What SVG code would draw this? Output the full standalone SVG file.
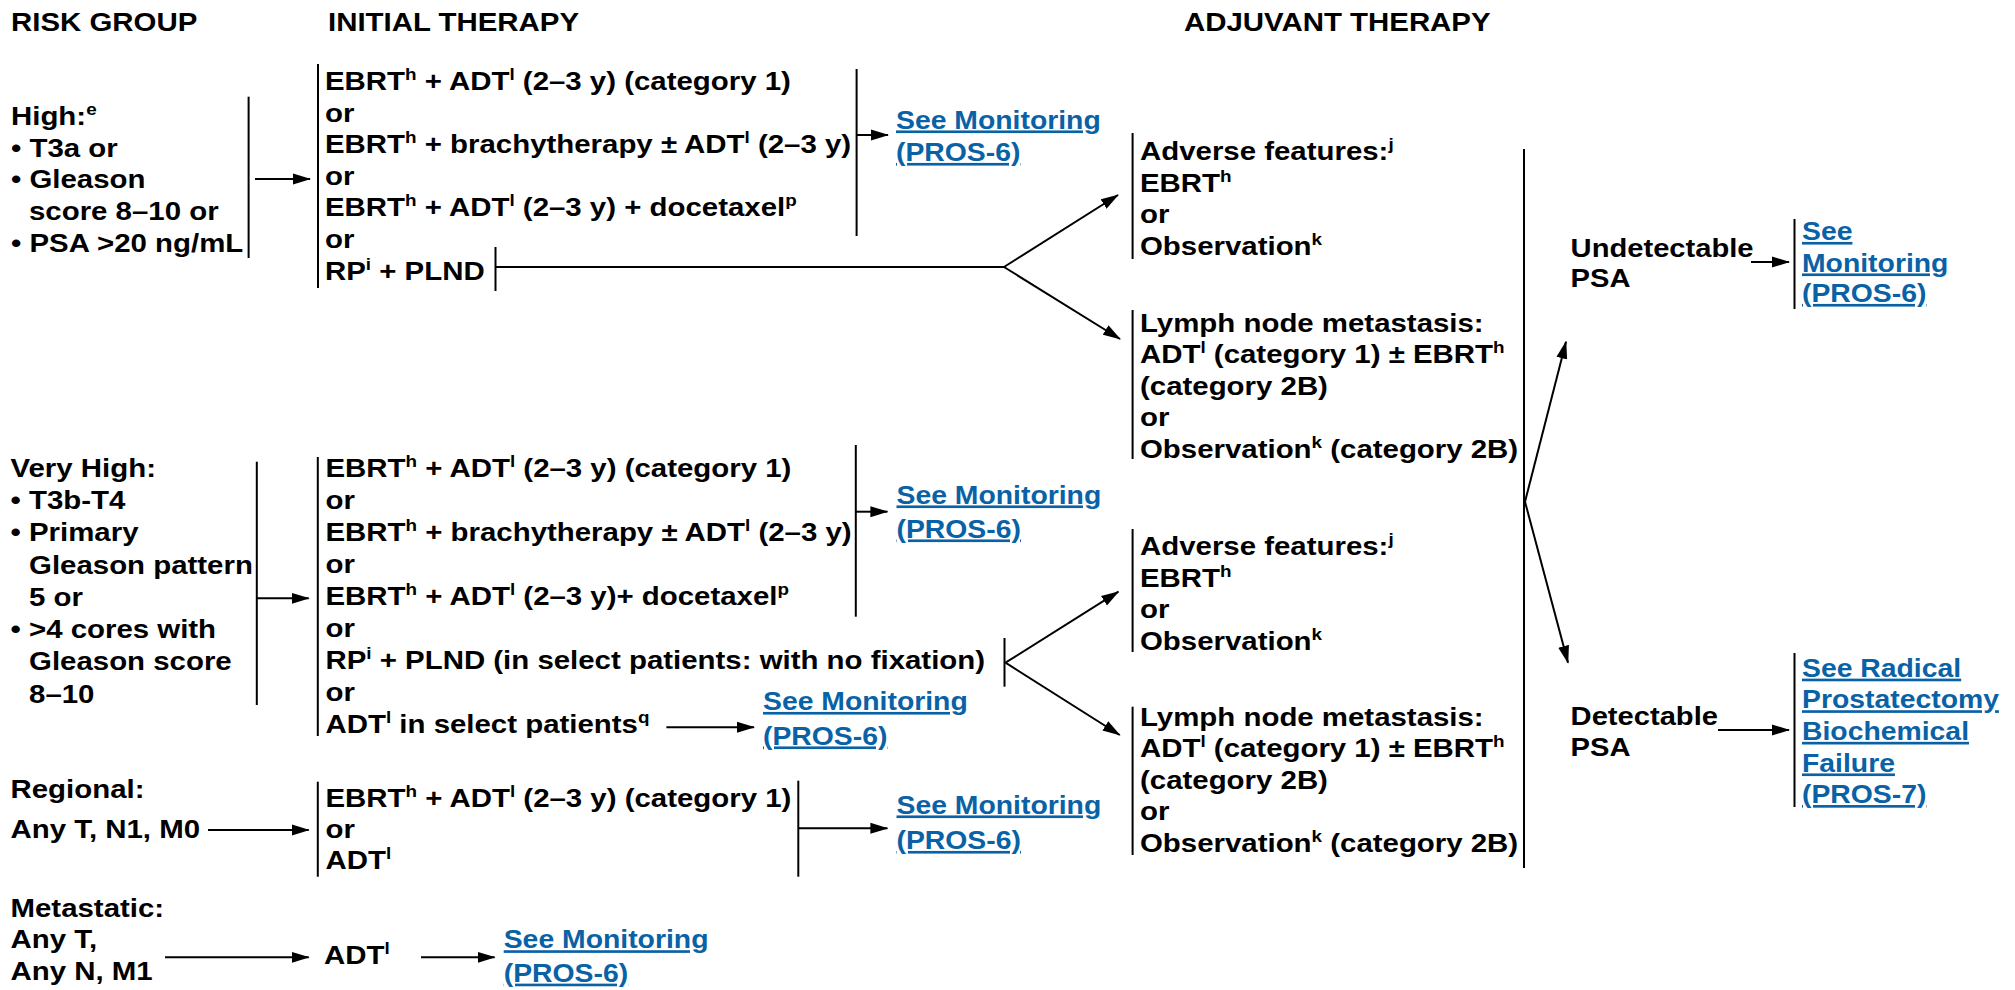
<svg xmlns="http://www.w3.org/2000/svg" width="2015" height="990" viewBox="0 0 2015 990">
<style>
.t{font-family:"Liberation Sans",Arial,Helvetica,sans-serif;font-weight:700;font-size:26.5px;fill:#000}
.s{font-size:17px}
.lk{fill:#0a62a6;text-decoration:underline}
.ln{stroke:#000;stroke-width:2;fill:none}
.ar{marker-end:url(#ah)}
</style>
<defs>
<marker id="ah" markerUnits="userSpaceOnUse" markerWidth="18" markerHeight="12" refX="17" refY="6" orient="auto">
<path d="M0,0.5 L18,6 L0,11.5 z" fill="#000"/>
</marker>
</defs>
<rect x="0" y="0" width="2015" height="990" fill="#fff"/>

<g id="headers">
<text class="t" transform="translate(11,31) scale(1.11,1)">RISK GROUP</text>
<text class="t" transform="translate(328,31) scale(1.11,1)">INITIAL THERAPY</text>
<text class="t" transform="translate(1184,31) scale(1.11,1)">ADJUVANT THERAPY</text>
</g>

<g id="risk-high">
<text class="t" transform="translate(11,125) scale(1.11,1)"><tspan x="0" y="0">High:<tspan class="s" dy="-10">e</tspan></tspan><tspan x="0" y="31.7">• T3a or</tspan><tspan x="0" y="63.4">• Gleason</tspan><tspan x="16.2" y="95.1">score 8–10 or</tspan><tspan x="0" y="126.8">• PSA &gt;20 ng/mL</tspan></text>
</g>

<g id="therapy-high">
<line class="ln" x1="318" y1="64" x2="318" y2="288"/>
<text class="t" transform="translate(325,90) scale(1.11,1)"><tspan x="0" y="0">EBRT<tspan class="s" dy="-10">h</tspan><tspan dy="10"> + ADT</tspan><tspan class="s" dy="-10">l</tspan><tspan dy="10"> (2–3 y) (category 1)</tspan></tspan><tspan x="0" y="31.6">or</tspan><tspan x="0" y="63.2">EBRT<tspan class="s" dy="-10">h</tspan><tspan dy="10"> + brachytherapy ± ADT</tspan><tspan class="s" dy="-10">l</tspan><tspan dy="10"> (2–3 y)</tspan></tspan><tspan x="0" y="94.8">or</tspan><tspan x="0" y="126.4">EBRT<tspan class="s" dy="-10">h</tspan><tspan dy="10"> + ADT</tspan><tspan class="s" dy="-10">l</tspan><tspan dy="10"> (2–3 y) + docetaxel</tspan><tspan class="s" dy="-10">p</tspan></tspan><tspan x="0" y="158">or</tspan><tspan x="0" y="189.6">RP<tspan class="s" dy="-10">i</tspan><tspan dy="10"> + PLND</tspan></tspan></text>
</g>

<g id="monitor-high">
<text class="t lk" transform="translate(896,128.5) scale(1.07,1)">See Monitoring</text>
<text class="t lk" transform="translate(896,161) scale(1.07,1)">(PROS-6)</text>
</g>

<g id="adverse-1">
<line class="ln" x1="1132.6" y1="133" x2="1132.6" y2="259"/>
<text class="t" transform="translate(1140,160) scale(1.11,1)"><tspan x="0" y="0">Adverse features:<tspan class="s" dy="-10">j</tspan></tspan><tspan x="0" y="31.7">EBRT<tspan class="s" dy="-10">h</tspan></tspan><tspan x="0" y="63.4">or</tspan><tspan x="0" y="95.1">Observation<tspan class="s" dy="-10">k</tspan></tspan></text>
</g>

<g id="lymph-1">
<line class="ln" x1="1132.6" y1="310" x2="1132.6" y2="459"/>
<text class="t" transform="translate(1140,331.7) scale(1.11,1)"><tspan x="0" y="0">Lymph node metastasis:</tspan><tspan x="0" y="31.6">ADT<tspan class="s" dy="-10">l</tspan><tspan dy="10"> (category 1) ± EBRT</tspan><tspan class="s" dy="-10">h</tspan></tspan><tspan x="0" y="63.2">(category 2B)</tspan><tspan x="0" y="94.8">or</tspan><tspan x="0" y="126.4">Observation<tspan class="s" dy="-10">k</tspan><tspan dy="10"> (category 2B)</tspan></tspan></text>
</g>

<g id="risk-very-high">
<text class="t" transform="translate(10.5,476.7) scale(1.11,1)"><tspan x="0" y="0">Very High:</tspan><tspan x="0" y="32.3">• T3b-T4</tspan><tspan x="0" y="64.6">• Primary</tspan><tspan x="16.7" y="96.9">Gleason pattern</tspan><tspan x="16.7" y="129.2">5 or</tspan><tspan x="0" y="161.5">• &gt;4 cores with</tspan><tspan x="16.7" y="193.8">Gleason score</tspan><tspan x="16.7" y="226.1">8–10</tspan></text>
</g>

<g id="therapy-very-high">
<line class="ln" x1="317.8" y1="457" x2="317.8" y2="736"/>
<text class="t" transform="translate(325.5,477.3) scale(1.11,1)"><tspan x="0" y="0">EBRT<tspan class="s" dy="-10">h</tspan><tspan dy="10"> + ADT</tspan><tspan class="s" dy="-10">l</tspan><tspan dy="10"> (2–3 y) (category 1)</tspan></tspan><tspan x="0" y="32">or</tspan><tspan x="0" y="64">EBRT<tspan class="s" dy="-10">h</tspan><tspan dy="10"> + brachytherapy ± ADT</tspan><tspan class="s" dy="-10">l</tspan><tspan dy="10"> (2–3 y)</tspan></tspan><tspan x="0" y="96">or</tspan><tspan x="0" y="128">EBRT<tspan class="s" dy="-10">h</tspan><tspan dy="10"> + ADT</tspan><tspan class="s" dy="-10">l</tspan><tspan dy="10"> (2–3 y)+ docetaxel</tspan><tspan class="s" dy="-10">p</tspan></tspan><tspan x="0" y="160">or</tspan><tspan x="0" y="192">RP<tspan class="s" dy="-10">i</tspan><tspan dy="10"> + PLND (in select patients: with no fixation)</tspan></tspan><tspan x="0" y="224">or</tspan><tspan x="0" y="256">ADT<tspan class="s" dy="-10">l</tspan><tspan dy="10"> in select patients</tspan><tspan class="s" dy="-10">q</tspan></tspan></text>
</g>

<g id="monitor-very-high">
<text class="t lk" transform="translate(896.5,503.5) scale(1.07,1)">See Monitoring</text>
<text class="t lk" transform="translate(896.5,537.5) scale(1.07,1)">(PROS-6)</text>
</g>

<g id="monitor-adt-select">
<text class="t lk" transform="translate(763,710) scale(1.07,1)">See Monitoring</text>
<text class="t lk" transform="translate(763,744.5) scale(1.07,1)">(PROS-6)</text>
</g>

<g id="adverse-2">
<line class="ln" x1="1132.6" y1="529" x2="1132.6" y2="652"/>
<text class="t" transform="translate(1140,555) scale(1.11,1)"><tspan x="0" y="0">Adverse features:<tspan class="s" dy="-10">j</tspan></tspan><tspan x="0" y="31.7">EBRT<tspan class="s" dy="-10">h</tspan></tspan><tspan x="0" y="63.4">or</tspan><tspan x="0" y="95.1">Observation<tspan class="s" dy="-10">k</tspan></tspan></text>
</g>

<g id="lymph-2">
<line class="ln" x1="1132.6" y1="706.7" x2="1132.6" y2="855"/>
<text class="t" transform="translate(1140,726) scale(1.11,1)"><tspan x="0" y="0">Lymph node metastasis:</tspan><tspan x="0" y="31.4">ADT<tspan class="s" dy="-10">l</tspan><tspan dy="10"> (category 1) ± EBRT</tspan><tspan class="s" dy="-10">h</tspan></tspan><tspan x="0" y="62.8">(category 2B)</tspan><tspan x="0" y="94.2">or</tspan><tspan x="0" y="125.6">Observation<tspan class="s" dy="-10">k</tspan><tspan dy="10"> (category 2B)</tspan></tspan></text>
</g>

<g id="undetectable">
<text class="t" transform="translate(1570.6,256.7) scale(1.1,1)"><tspan x="0" y="0">Undetectable</tspan><tspan x="0" y="30.5">PSA</tspan></text>
</g>

<g id="monitor-undetectable">
<line class="ln" x1="1794.5" y1="219" x2="1794.5" y2="309"/>
<text class="t lk" transform="translate(1802,240) scale(1.07,1)">See</text>
<text class="t lk" transform="translate(1802,271.5) scale(1.07,1)">Monitoring</text>
<text class="t lk" transform="translate(1802,302) scale(1.07,1)">(PROS-6)</text>
</g>

<g id="detectable">
<text class="t" transform="translate(1570.6,725) scale(1.1,1)"><tspan x="0" y="0">Detectable</tspan><tspan x="0" y="30.7">PSA</tspan></text>
</g>

<g id="failure-link">
<line class="ln" x1="1794.5" y1="653" x2="1794.5" y2="807"/>
<text class="t lk" transform="translate(1802,676.7) scale(1.07,1)">See Radical</text>
<text class="t lk" transform="translate(1802,708.3) scale(1.07,1)">Prostatectomy</text>
<text class="t lk" transform="translate(1802,739.9) scale(1.07,1)">Biochemical</text>
<text class="t lk" transform="translate(1802,771.5) scale(1.07,1)">Failure</text>
<text class="t lk" transform="translate(1802,803.1) scale(1.07,1)">(PROS-7)</text>
</g>

<g id="risk-regional">
<text class="t" transform="translate(10.5,798.3) scale(1.11,1)"><tspan x="0" y="0">Regional:</tspan><tspan x="0" y="40">Any T, N1, M0</tspan></text>
</g>

<g id="therapy-regional">
<line class="ln" x1="317.8" y1="781.7" x2="317.8" y2="876.7"/>
<text class="t" transform="translate(325.5,806.7) scale(1.11,1)"><tspan x="0" y="0">EBRT<tspan class="s" dy="-10">h</tspan><tspan dy="10"> + ADT</tspan><tspan class="s" dy="-10">l</tspan><tspan dy="10"> (2–3 y) (category 1)</tspan></tspan><tspan x="0" y="31.3">or</tspan><tspan x="0" y="62.6">ADT<tspan class="s" dy="-10">l</tspan></tspan></text>
</g>

<g id="monitor-regional">
<text class="t lk" transform="translate(896.5,813.5) scale(1.07,1)">See Monitoring</text>
<text class="t lk" transform="translate(896.5,849) scale(1.07,1)">(PROS-6)</text>
</g>

<g id="risk-metastatic">
<text class="t" transform="translate(10.5,916.7) scale(1.11,1)"><tspan x="0" y="0">Metastatic:</tspan><tspan x="0" y="31.6">Any T,</tspan><tspan x="0" y="63.3">Any N, M1</tspan></text>
</g>

<g id="therapy-metastatic">
<text class="t" transform="translate(324,964) scale(1.11,1)">ADT<tspan class="s" dy="-10">l</tspan></text>
</g>

<g id="monitor-metastatic">
<text class="t lk" transform="translate(503.7,948.3) scale(1.07,1)">See Monitoring</text>
<text class="t lk" transform="translate(503.7,981.7) scale(1.07,1)">(PROS-6)</text>
</g>

<g id="connectors">
<line class="ln" x1="248.6" y1="96.7" x2="248.6" y2="258"/>
<line class="ln ar" x1="255" y1="179" x2="310" y2="179"/>
<line class="ln" x1="856.6" y1="69" x2="856.6" y2="236"/>
<line class="ln ar" x1="857" y1="135" x2="888" y2="135"/>
<line class="ln" x1="495.5" y1="247" x2="495.5" y2="291"/>
<polyline class="ln" points="496,267 1004,267"/>
<line class="ln ar" x1="1004" y1="267" x2="1118" y2="195"/>
<line class="ln ar" x1="1004" y1="267" x2="1120" y2="339"/>

<line class="ln" x1="256.8" y1="461.7" x2="256.8" y2="705"/>
<line class="ln ar" x1="257" y1="598.3" x2="308.7" y2="598.3"/>
<line class="ln" x1="855.8" y1="445" x2="855.8" y2="616.7"/>
<line class="ln ar" x1="856" y1="511.7" x2="887.4" y2="511.7"/>
<line class="ln" x1="1004.5" y1="638" x2="1004.5" y2="686.7"/>
<line class="ln ar" x1="1005.5" y1="662.7" x2="1118.4" y2="591.7"/>
<line class="ln ar" x1="1005.5" y1="662.7" x2="1119.7" y2="735"/>
<line class="ln ar" x1="666.4" y1="727.3" x2="754" y2="727.3"/>

<line class="ln" x1="1524" y1="149" x2="1524" y2="868"/>
<line class="ln ar" x1="1525" y1="501.7" x2="1566" y2="341.7"/>
<line class="ln ar" x1="1525" y1="501.7" x2="1568" y2="662.7"/>
<line class="ln ar" x1="1751" y1="262" x2="1789" y2="262"/>
<line class="ln ar" x1="1718" y1="730" x2="1789" y2="730"/>

<line class="ln ar" x1="208" y1="830" x2="308.7" y2="830"/>
<line class="ln" x1="798.3" y1="780.7" x2="798.3" y2="876.7"/>
<line class="ln ar" x1="798.3" y1="828.3" x2="887.4" y2="828.3"/>

<line class="ln ar" x1="165" y1="957.3" x2="308.7" y2="957.3"/>
<line class="ln ar" x1="421" y1="957.3" x2="494.6" y2="957.3"/>
</g>
</svg>
